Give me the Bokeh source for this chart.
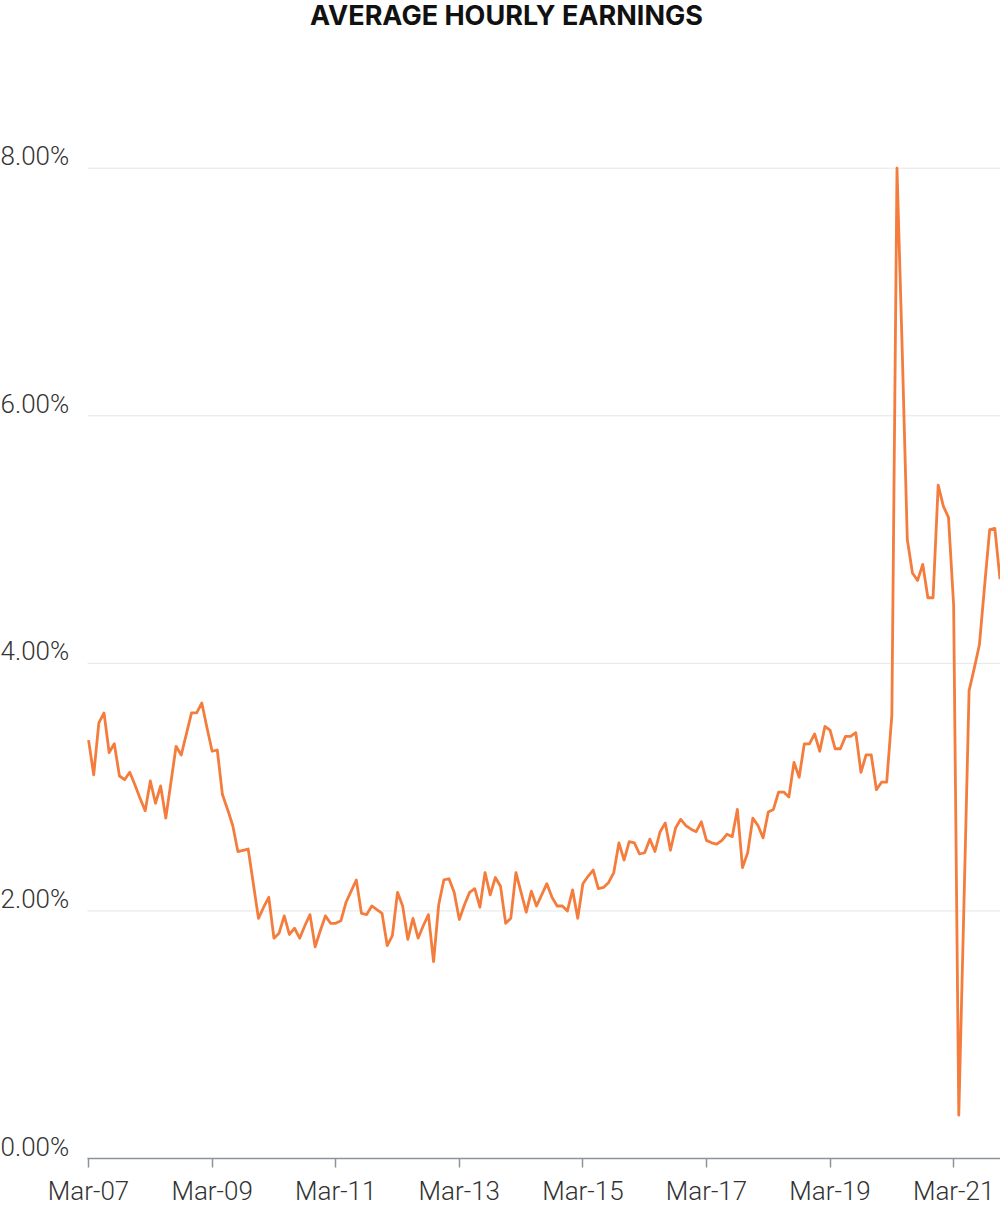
from bokeh.plotting import figure
from bokeh.models import Range1d, FixedTicker, Label, ColumnDataSource
from bokeh.embed import file_html
from bokeh.resources import INLINE

title_text = "AVERAGE HOURLY EARNINGS"

# x tick labels (monthly index, first point = Mar-07)
x_tick_positions = [0, 24, 48, 72, 96, 120, 144, 168]
x_tick_labels = ["Mar-07", "Mar-09", "Mar-11", "Mar-13", "Mar-15", "Mar-17", "Mar-19", "Mar-21"]

y_tick_values = [0, 2, 4, 6, 8]
y_tick_labels = ["0.00%", "2.00%", "4.00%", "6.00%", "8.00%"]

# Year-over-year % change, monthly
yoy_2007 = [3.38, 3.10, 3.52, 3.60, 3.28, 3.35, 3.09, 3.06, 3.12, 3.02]  # Mar-Dec
yoy_2008 = [2.91, 2.81, 3.05, 2.87, 3.01, 2.75, 3.04, 3.33, 3.26, 3.43, 3.60, 3.60]
yoy_2009 = [3.68, 3.48, 3.29, 3.30, 2.94, 2.82, 2.69, 2.48, 2.49, 2.50, 2.22, 1.94]
yoy_2010 = [2.03, 2.11, 1.78, 1.82, 1.96, 1.81, 1.86, 1.78, 1.88, 1.97, 1.71, 1.84]
yoy_2011 = [1.96, 1.90, 1.90, 1.92, 2.07, 2.16, 2.25, 1.98, 1.97, 2.04, 2.01, 1.98]
yoy_2012 = [1.72, 1.80, 2.15, 2.04, 1.77, 1.94, 1.78, 1.88, 1.97, 1.59, 2.05, 2.25]
yoy_2013 = [2.26, 2.15, 1.93, 2.05, 2.15, 2.18, 2.03, 2.31, 2.13, 2.27, 2.20, 1.90]
yoy_2014 = [1.94, 2.31, 2.15, 1.99, 2.16, 2.04, 2.13, 2.22, 2.11, 2.04, 2.04, 2.00]
yoy_2015 = [2.17, 1.94, 2.22, 2.28, 2.33, 2.18, 2.19, 2.23, 2.31, 2.55, 2.41, 2.56]
yoy_2016 = [2.55, 2.46, 2.47, 2.58, 2.48, 2.64, 2.71, 2.49, 2.67, 2.74, 2.69, 2.66]
yoy_2017 = [2.64, 2.72, 2.57, 2.55, 2.54, 2.57, 2.62, 2.60, 2.82, 2.35, 2.47, 2.75]
yoy_2018 = [2.69, 2.59, 2.80, 2.82, 2.96, 2.96, 2.92, 3.20, 3.08, 3.35, 3.35, 3.43]
yoy_2019 = [3.29, 3.49, 3.46, 3.31, 3.31, 3.41, 3.41, 3.44, 3.12, 3.26, 3.26, 2.98]
yoy_2020 = [3.04, 3.04, 3.58, 8.00, 6.55, 5.00, 4.73, 4.67, 4.80, 4.53, 4.53, 5.44]
yoy_2021 = [5.27, 5.18, 4.47, 0.35, 2.05, 3.78, 3.96, 4.15, 4.62, 5.08, 5.09, 4.68]

values = (yoy_2007 + yoy_2008 + yoy_2009 + yoy_2010 + yoy_2011 + yoy_2012 + yoy_2013 +
          yoy_2014 + yoy_2015 + yoy_2016 + yoy_2017 + yoy_2018 + yoy_2019 + yoy_2020 + yoy_2021)
month_index = list(range(len(values)))

source = ColumnDataSource(data=dict(x=month_index, y=values))

LABEL_FONT = "Roboto Light"
LINE_COLOR = "#f47c3c"
AXIS_COLOR = "#8c939b"
TEXT_COLOR = "#333333"
GRID_COLOR = "#e6e6e6"

# plotted span (month index) and full view (room on the left for the % labels)
PLOT_START, PLOT_END = -0.2, 177.1
VIEW_START = -17.1
Y_TOP = 9.355

p = figure(width=1000, height=1208, output_backend="svg", toolbar_location=None,
           x_range=Range1d(VIEW_START, PLOT_END), y_range=Range1d(0, Y_TOP),
           min_border_left=0, min_border_right=0, min_border_top=0, min_border_bottom=0)

p.outline_line_color = None
p.background_fill_color = "white"
p.border_fill_color = "white"
p.xgrid.grid_line_color = None
p.ygrid.grid_line_color = None
p.yaxis.visible = False

# horizontal gridlines over the plotted span
p.segment(x0=[PLOT_START] * len(y_tick_values), x1=[PLOT_END] * len(y_tick_values),
          y0=y_tick_values, y1=y_tick_values, line_color=GRID_COLOR, line_width=1)

p.line("x", "y", source=source, line_color=LINE_COLOR, line_width=2.8, line_join="round")

# y tick labels sitting above their gridlines
for v, lab in zip(y_tick_values, y_tick_labels):
    p.add_layout(Label(x=0, y=v, x_units="screen", y_units="data", text=lab,
                       text_font=LABEL_FONT, text_font_size="26px", text_color=TEXT_COLOR,
                       text_baseline="alphabetic", text_align="left", y_offset=12))

# title
p.add_layout(Label(x=506, y=9.234, x_units="screen", y_units="data", text=title_text,
                   text_font="Inter", text_font_size="27px", text_font_style="bold",
                   text_color="#111111", text_align="center", text_baseline="alphabetic"))

xa = p.xaxis[0]
xa.bounds = (PLOT_START, PLOT_END)
xa.ticker = FixedTicker(ticks=x_tick_positions)
xa.major_label_overrides = {t: l for t, l in zip(x_tick_positions, x_tick_labels)}
xa.axis_line_color = AXIS_COLOR
xa.axis_line_width = 1.5
xa.major_tick_line_color = AXIS_COLOR
xa.major_tick_line_width = 1.5
xa.major_tick_out = 9
xa.major_tick_in = 0
xa.minor_tick_line_color = None
xa.major_label_standoff = 8
xa.major_label_text_font = LABEL_FONT
xa.major_label_text_font_size = "26px"
xa.major_label_text_color = TEXT_COLOR

open("out.html", "w").write(file_html(p, INLINE))
